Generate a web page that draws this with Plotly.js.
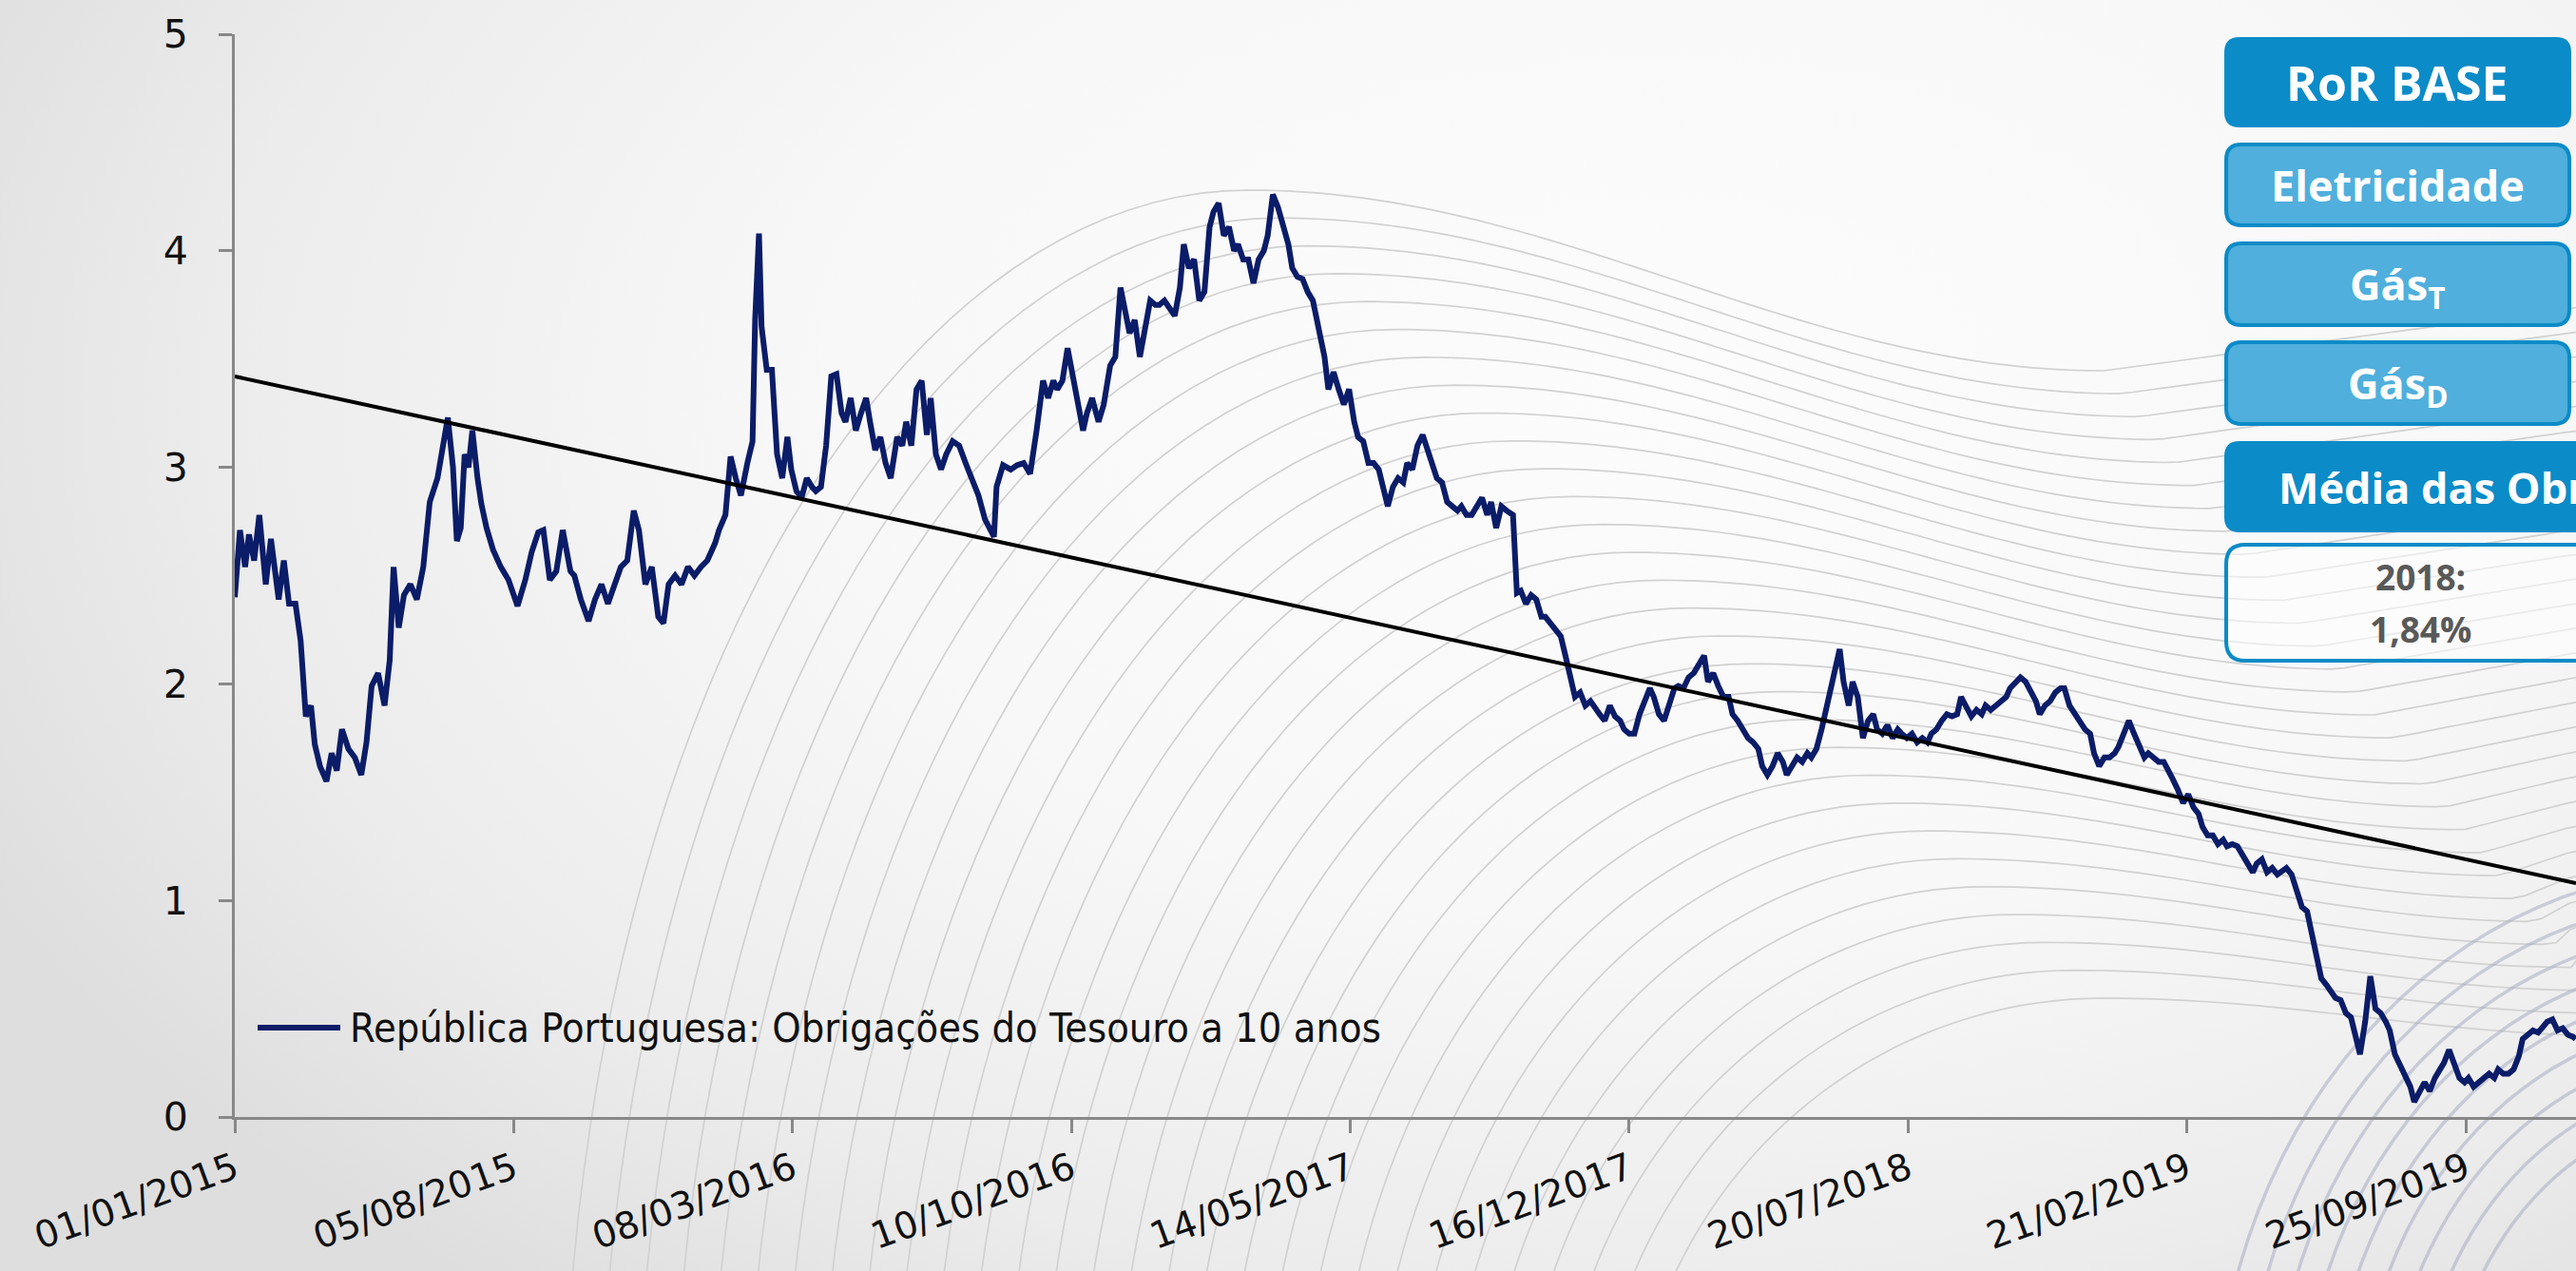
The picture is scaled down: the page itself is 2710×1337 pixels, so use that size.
<!DOCTYPE html>
<html>
<head>
<meta charset="utf-8">
<script src="https://cdn.plot.ly/plotly-3.0.1.min.js"></script>
<style>
  html, body { margin: 0; padding: 0; background: #f3f3f3; overflow: hidden; }
  #chart { width: 2710px; height: 1337px; }
</style>
</head>
<body>
<div id="chart"></div>
<script>
// ---------------- DATA ----------------
const startDate = '2015-01-01';
const seriesName = 'República Portuguesa: Obrigações do Tesouro a 10 anos';

// days since 01/01/2015
const dayOffsets = [
0,4,8,11,15,19,24,28,34,38,42,47,51,55,59,62,66,71,75,79,83,88,93,98,102,106,111,116,120,123,
127,131,136,141,146,151,157,162,165,169,172,175,178,181,184,188,191,195,200,206,212,219,225,230,235,239,244,249,254,260,
263,268,274,279,284,289,294,299,304,309,313,318,323,328,332,336,341,346,351,356,361,366,372,375,380,384,388,392,397,401,
403,406,408,412,416,420,424,428,431,435,439,443,447,450,454,458,462,466,470,473,477,481,485,489,492,496,500,504,508,513,
517,520,524,528,532,536,539,543,547,551,556,561,566,571,576,581,588,590,595,601,606,611,616,621,626,630,634,637,641,645,
649,653,657,660,664,669,673,678,682,686,690,693,697,701,705,709,713,716,720,724,728,732,735,739,743,747,751,755,758,762,
766,770,774,777,781,785,789,793,797,800,804,808,812,816,819,823,827,831,835,839,844,847,851,855,859,863,867,870,874,878,
882,886,889,893,897,901,905,908,912,916,920,924,928,931,935,939,943,947,950,954,958,962,966,970,973,977,981,985,990,993,
996,1000,1004,1008,1012,1015,1019,1023,1027,1031,1034,1038,1042,1046,1050,1054,1057,1061,1065,1069,1073,1076,1080,1084,1088,1092,1096,1099,1103,1107,
1111,1115,1118,1122,1126,1130,1134,1138,1141,1145,1149,1153,1157,1160,1164,1168,1172,1176,1180,1183,1187,1191,1195,1199,1202,1206,1210,1214,1218,1221,
1225,1229,1233,1237,1241,1243,1246,1250,1253,1257,1261,1265,1269,1272,1276,1280,1284,1288,1291,1295,1299,1303,1307,1311,1314,1318,1322,1326,1330,1334,
1337,1341,1345,1349,1353,1356,1360,1364,1368,1372,1375,1379,1383,1387,1391,1395,1398,1402,1406,1410,1414,1417,1421,1425,1429,1433,1437,1440,1444,1448,
1452,1456,1459,1463,1467,1471,1475,1479,1482,1486,1490,1494,1498,1501,1505,1509,1513,1517,1521,1524,1528,1532,1536,1540,1543,1547,1551,1555,1559,1563,
1566,1570,1574,1578,1582,1585,1589,1593,1597,1601,1605,1608,1612,1616,1620,1624,1627,1631,1635,1639,1643,1646,1650,1654,1658,1662,1666,1669,1673,1677,
1681,1685,1688,1692,1696,1700,1704,1708,1711,1715,1719,1723,1727,1730,1734,1738,1742,1746,1750,1753,1757,1761,1765,1769,1772,1776,1780,1784,1788,1791,
1795,1799,1803,1807,1811,1813
];

// 10-year yield, %
const yieldValues = [
2.40,2.71,2.54,2.69,2.57,2.78,2.46,2.67,2.39,2.57,2.37,2.37,2.20,1.85,1.90,1.72,1.62,1.55,1.68,1.60,1.79,1.70,1.66,1.58,1.73,1.99,2.05,1.90,2.11,2.54,
2.26,2.41,2.46,2.39,2.54,2.84,2.95,3.12,3.23,3.00,2.66,2.72,3.06,3.00,3.17,2.95,2.83,2.72,2.62,2.54,2.48,2.36,2.48,2.61,2.70,2.71,2.48,2.52,2.71,2.52,
2.50,2.39,2.29,2.39,2.46,2.37,2.46,2.54,2.57,2.80,2.71,2.46,2.54,2.31,2.28,2.46,2.50,2.46,2.54,2.50,2.54,2.57,2.65,2.71,2.78,3.05,2.95,2.87,3.02,3.12,
3.68,4.08,3.65,3.45,3.45,3.06,2.95,3.14,2.99,2.89,2.86,2.95,2.91,2.89,2.91,3.10,3.42,3.43,3.25,3.21,3.32,3.17,3.25,3.32,3.21,3.08,3.14,3.02,2.95,3.14,
3.10,3.21,3.10,3.36,3.40,3.15,3.32,3.06,2.99,3.06,3.12,3.10,3.02,2.95,2.87,2.76,2.68,2.91,3.01,2.99,3.01,3.02,2.97,3.17,3.40,3.32,3.40,3.36,3.40,3.55,
3.42,3.29,3.17,3.25,3.32,3.21,3.29,3.47,3.51,3.83,3.70,3.62,3.68,3.51,3.64,3.77,3.75,3.75,3.77,3.74,3.70,3.83,4.03,3.92,3.96,3.77,3.81,4.11,4.18,4.22,
4.07,4.11,4.00,4.03,3.96,3.96,3.85,3.96,4.00,4.07,4.26,4.20,4.11,4.03,3.92,3.88,3.87,3.81,3.77,3.66,3.51,3.36,3.44,3.36,3.29,3.36,3.21,3.14,3.12,3.02,
3.02,2.99,2.91,2.82,2.91,2.95,2.93,3.02,2.99,3.10,3.15,3.08,3.01,2.95,2.93,2.84,2.82,2.80,2.82,2.78,2.78,2.82,2.86,2.78,2.84,2.72,2.82,2.80,2.78,2.42,
2.43,2.37,2.41,2.39,2.31,2.31,2.28,2.26,2.22,2.12,2.03,1.94,1.96,1.90,1.92,1.88,1.86,1.83,1.90,1.85,1.83,1.79,1.77,1.77,1.86,1.92,1.98,1.94,1.86,1.83,
1.90,1.98,1.99,1.98,2.03,2.05,2.09,2.13,2.01,2.05,1.99,1.94,1.94,1.86,1.83,1.79,1.75,1.73,1.70,1.62,1.58,1.62,1.68,1.64,1.58,1.62,1.66,1.64,1.68,1.66,
1.70,1.79,1.90,1.98,2.09,2.16,2.01,1.90,2.01,1.94,1.75,1.83,1.86,1.79,1.77,1.81,1.75,1.79,1.77,1.75,1.77,1.73,1.75,1.73,1.77,1.79,1.83,1.86,1.85,1.86,
1.94,1.90,1.85,1.88,1.86,1.90,1.88,1.90,1.92,1.94,1.98,2.01,2.03,2.01,1.96,1.92,1.86,1.90,1.92,1.96,1.98,1.98,1.90,1.86,1.83,1.79,1.77,1.68,1.62,1.66,
1.66,1.68,1.71,1.77,1.83,1.77,1.71,1.66,1.68,1.66,1.64,1.64,1.60,1.56,1.51,1.45,1.49,1.43,1.40,1.34,1.30,1.30,1.26,1.28,1.25,1.26,1.25,1.21,1.17,1.13,
1.17,1.19,1.13,1.15,1.12,1.13,1.15,1.12,1.04,0.97,0.95,0.87,0.75,0.64,0.61,0.57,0.55,0.54,0.48,0.46,0.37,0.29,0.44,0.65,0.50,0.48,0.44,0.40,0.29,0.24,
0.18,0.14,0.07,0.12,0.16,0.12,0.18,0.22,0.25,0.31,0.25,0.18,0.16,0.18,0.14,0.16,0.18,0.20,0.18,0.22,0.20,0.20,0.22,0.28,0.36,0.38,0.40,0.39,0.42,0.44,
0.45,0.40,0.41,0.38,0.37,0.36
];

// linear trend line
const trendDates = ['2015-01-01', '2019-12-19 07:00'];
const trendValues = [3.42, 1.08];

// axis ticks
const tickDates = ['2015-01-01','2015-08-05','2016-03-08','2016-10-10','2017-05-14','2017-12-16','2018-07-20','2019-02-21','2019-09-25'];
const tickLabels = ['01/01/2015','05/08/2015','08/03/2016','10/10/2016','14/05/2017','16/12/2017','20/07/2018','21/02/2019','25/09/2019'];

// side panel texts
const panelTitle = 'RoR BASE';
const panelItems = ['Eletricidade', 'Gás<sub>T</sub>', 'Gás<sub>D</sub>'];
const avgTitle = 'Média das Obrigações';
const avgLines = ['2018:', '1,84%'];

// ---------------- BUILD ----------------
const W = 2710, H = 1337;
const dates = dayOffsets.map(d => new Date(Date.UTC(2015, 0, 1) + d * 86400000).toISOString().slice(0, 10));

const px = x => x / W;
const py = y => 1 - y / H;

function rrect(x0, y0, x1, y1, r) {
  const P = (x, y) => px(x).toFixed(5) + ',' + py(y).toFixed(5);
  return 'M' + P(x0 + r, y0) + ' L' + P(x1 - r, y0) + ' Q' + P(x1, y0) + ' ' + P(x1, y0 + r) +
         ' L' + P(x1, y1 - r) + ' Q' + P(x1, y1) + ' ' + P(x1 - r, y1) +
         ' L' + P(x0 + r, y1) + ' Q' + P(x0, y1) + ' ' + P(x0, y1 - r) +
         ' L' + P(x0, y0 + r) + ' Q' + P(x0, y0) + ' ' + P(x0 + r, y0) + ' Z';
}

// decorative background (gradient + wave lines), drawn as a layout image
function backgroundSvg() {
  let s = "<svg xmlns='http://www.w3.org/2000/svg' width='2710' height='1337' viewBox='0 0 2710 1337' preserveAspectRatio='none'>";
  s += "<defs><radialGradient id='g' gradientUnits='userSpaceOnUse' cx='1750' cy='420' r='1950' " +
       "gradientTransform='translate(1750 420) scale(1 0.62) translate(-1750 -420)'>" +
       "<stop offset='0' stop-color='#fcfcfc'/><stop offset='0.45' stop-color='#f8f8f8'/>" +
       "<stop offset='0.78' stop-color='#ececec'/><stop offset='1' stop-color='#dedede'/></radialGradient></defs>";
  s += "<rect x='0' y='0' width='2710' height='1337' fill='url(#g)'/>";
  const N = 30;
  for (let i = 0; i < N; i++) {
    const t = i / (N - 1);
    const xt = 1313 + 900 * t, yt = 200 + 850 * t, Yb = 1560, b = Yb - yt, a = 720 - 220 * t;
    const pts = [];
    for (let deg = 0; deg <= 90; deg += 2) {
      const f = deg * Math.PI / 180;
      pts.push([xt - a * Math.cos(f), Yb - b * Math.sin(f)]);
    }
    const A = 150 * (1 - t) + 40, L = 900 - 350 * t;
    for (let x = xt + 15; x <= 2730; x += 15) {
      const u = x - xt;
      let y;
      if (u <= L) y = yt + A * (1 - Math.cos(Math.PI * u / L)) / 2;
      else y = yt + A - 0.35 * A * Math.min(1, (u - L) / Math.max(1, 2710 - xt - L));
      pts.push([x, y]);
    }
    s += "<polyline fill='none' stroke='#d1d1d1' stroke-width='1.7' points='" +
         pts.map(p => p[0].toFixed(1) + ',' + p[1].toFixed(1)).join(' ') + "'/>";
  }
  for (let k = 0; k < 9; k++) {
    const rx = 290 + k * 30, ry = 350 + k * 32, cx = 2860, cy = 1520;
    const pts = [];
    for (let deg = 180; deg <= 270; deg += 3) {
      const f = deg * Math.PI / 180;
      pts.push([cx + rx * Math.cos(f), cy + ry * Math.sin(f)]);
    }
    s += "<polyline fill='none' stroke='#a7adc2' stroke-opacity='0.55' stroke-width='3.5' points='" +
         pts.map(p => p[0].toFixed(1) + ',' + p[1].toFixed(1)).join(' ') + "'/>";
  }
  s += "</svg>";
  return 'data:image/svg+xml;charset=utf-8,' + encodeURIComponent(s);
}

const AXIS_FONT = '"DejaVu Sans", sans-serif';
const LEGEND_FONT = '"DejaVu Sans Condensed", "DejaVu Sans", sans-serif';
const BOX_FONT = '"Open Sans", "Noto Sans", sans-serif';
const NAVY = '#0b1c68';
const DARK_BLUE = '#0b8bc7';
const LIGHT_BLUE = '#50afdc';

const traces = [
  {
    x: dates, y: yieldValues, type: 'scatter', mode: 'lines', name: seriesName,
    line: { color: NAVY, width: 6 }, hoverinfo: 'skip', showlegend: false
  },
  {
    x: trendDates, y: trendValues, type: 'scatter', mode: 'lines', name: 'Tendência',
    line: { color: '#000000', width: 4 }, hoverinfo: 'skip', showlegend: false
  }
];

const shapes = [];
const annotations = [];

// custom legend
shapes.push({ type: 'line', xref: 'paper', yref: 'paper', x0: px(271), x1: px(358), y0: py(1081), y1: py(1081),
  line: { color: NAVY, width: 6 } });
annotations.push({ xref: 'paper', yref: 'paper', x: px(366), y: py(1081), xanchor: 'left', yanchor: 'middle',
  text: seriesName, showarrow: false, font: { family: LEGEND_FONT, size: 43, color: '#111111' } });

// side panel boxes
shapes.push({ type: 'path', xref: 'paper', yref: 'paper', path: rrect(2340, 39, 2705, 134, 16),
  fillcolor: DARK_BLUE, line: { width: 0 } });
annotations.push({ xref: 'paper', yref: 'paper', x: px(2522), y: py(87), xanchor: 'center', yanchor: 'middle',
  text: '<b>' + panelTitle + '</b>', showarrow: false, font: { family: BOX_FONT, size: 50, color: '#ffffff' } });

const itemBoxes = [[152, 237], [256, 342], [360, 446]];
panelItems.forEach((txt, i) => {
  const [y0, y1] = itemBoxes[i];
  shapes.push({ type: 'path', xref: 'paper', yref: 'paper', path: rrect(2342, y0, 2703, y1, 16),
    fillcolor: LIGHT_BLUE, line: { color: DARK_BLUE, width: 4 } });
  annotations.push({ xref: 'paper', yref: 'paper', x: px(2522), y: py((y0 + y1) / 2 + (i === 0 ? 0 : 2)),
    xanchor: 'center', yanchor: 'middle', text: '<b>' + txt + '</b>', showarrow: false,
    font: { family: BOX_FONT, size: 45, color: '#ffffff' } });
});

shapes.push({ type: 'path', xref: 'paper', yref: 'paper', path: rrect(2340, 464, 2820, 560, 16),
  fillcolor: DARK_BLUE, line: { width: 0 } });
annotations.push({ xref: 'paper', yref: 'paper', x: px(2395), y: py(512), xanchor: 'left', yanchor: 'middle',
  text: '<b>' + avgTitle + '</b>', showarrow: false, font: { family: BOX_FONT, size: 45, color: '#ffffff' } });

shapes.push({ type: 'path', xref: 'paper', yref: 'paper', path: rrect(2342, 573, 2820, 695, 20),
  fillcolor: 'rgba(255,255,255,0.55)', line: { color: DARK_BLUE, width: 4 } });
annotations.push({ xref: 'paper', yref: 'paper', x: px(2546), y: py(606), xanchor: 'center', yanchor: 'middle',
  text: '<b>' + avgLines[0] + '</b>', showarrow: false, font: { family: BOX_FONT, size: 37, color: '#595959' } });
annotations.push({ xref: 'paper', yref: 'paper', x: px(2546), y: py(661), xanchor: 'center', yanchor: 'middle',
  text: '<b>' + avgLines[1] + '</b>', showarrow: false, font: { family: BOX_FONT, size: 37, color: '#595959' } });

const axisCommon = {
  ticks: 'outside', ticklen: 14, tickwidth: 3, tickcolor: '#888888',
  showline: true, linecolor: '#888888', linewidth: 3,
  showgrid: false, zeroline: false, automargin: false
};

const layout = {
  width: W, height: H,
  margin: { l: 0, r: 0, t: 0, b: 0, pad: 0 },
  paper_bgcolor: '#f3f3f3',
  plot_bgcolor: 'rgba(0,0,0,0)',
  showlegend: false,
  xaxis: Object.assign({}, axisCommon, {
    type: 'date', domain: [247 / W, 1], range: [startDate, '2019-12-19 07:00'],
    tickmode: 'array', tickvals: tickDates, ticktext: tickLabels, tickangle: -20, anchor: 'y',
    ticklabelstandoff: 0,
    tickfont: { family: AXIS_FONT, size: 39, color: '#111111' }
  }),
  yaxis: Object.assign({}, axisCommon, {
    domain: [(H - 1175) / H, (H - 36) / H], range: [0, 5], tick0: 0, dtick: 1,
    ticklabelstandoff: 24, anchor: 'x',
    tickfont: { family: AXIS_FONT, size: 41, color: '#111111' }
  }),
  shapes: shapes,
  annotations: annotations,
  images: [{
    source: backgroundSvg(), xref: 'paper', yref: 'paper', x: 0, y: 1, sizex: 1, sizey: 1,
    xanchor: 'left', yanchor: 'top', sizing: 'stretch', layer: 'below'
  }]
};

Plotly.newPlot('chart', traces, layout, { staticPlot: true, displayModeBar: false });
</script>
</body>
</html>
